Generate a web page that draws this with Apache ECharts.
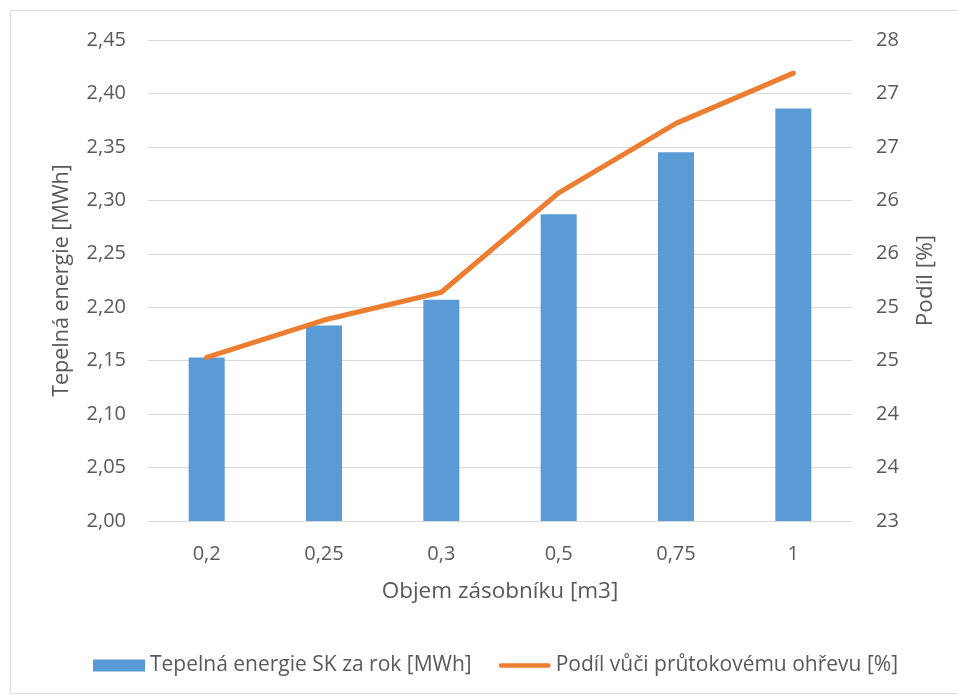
<!DOCTYPE html>
<html>
<head>
<meta charset="utf-8">
<script src="https://cdn.jsdelivr.net/npm/echarts@6/dist/echarts.min.js"></script>
<style>
html,body{margin:0;padding:0;background:#fff;}
#c{width:958px;height:695px;}
</style>
</head>
<body>
<div id="c"></div>
<script>
const categories = ['0,2', '0,25', '0,3', '0,5', '0,75', '1'];
const energyMWh = [2.153, 2.183, 2.207, 2.287, 2.345, 2.386];
const sharePct = [24.53, 24.88, 25.14, 26.07, 26.72, 27.19];
const barName = 'Tepelná energie SK za rok [MWh]';
const lineName = 'Podíl vůči průtokovému ohřevu [%]';
const xAxisName = 'Objem zásobníku [m3]';
const leftAxisName = 'Tepelná energie [MWh]';
const rightAxisName = 'Podíl [%]';

const FONT = 'Open Sans';
const TXT = '#595959';

const chart = echarts.init(document.getElementById('c'), null, {renderer: 'canvas'});
chart.setOption({
  animation: false,
  textStyle: {fontFamily: FONT},
  graphic: [{
    type: 'rect', silent: true, z: -1,
    shape: {x: 10.5, y: 10.5, width: 960, height: 683},
    style: {fill: 'none', stroke: '#d9d9d9', lineWidth: 1}
  }],
  grid: {left: 148, right: 106, top: 40, bottom: 174, containLabel: false},
  legend: {
    left: 88, top: 650,
    itemWidth: 52, itemHeight: 12, itemGap: 27,
    textStyle: {fontFamily: FONT, fontSize: 21, color: TXT},
    data: [
      {name: barName, icon: 'rect'},
      {name: lineName, icon: 'path://M2,0 L54,0 A2.5,2.5 0 0 1 54,5 L2,5 A2.5,2.5 0 0 1 2,0 Z'}
    ]
  },
  xAxis: {
    type: 'category',
    data: categories,
    name: xAxisName,
    nameLocation: 'middle',
    nameGap: 59,
    nameTextStyle: {fontFamily: FONT, fontSize: 22.5, color: TXT},
    axisLine: {lineStyle: {color: '#d9d9d9', width: 1}},
    axisTick: {show: false},
    axisLabel: {fontFamily: FONT, fontSize: 20, color: TXT, margin: 23}
  },
  yAxis: [{
    type: 'value',
    min: 2.0, max: 2.45, interval: 0.05,
    name: leftAxisName,
    nameLocation: 'middle',
    nameGap: 75,
    nameRotate: 90,
    nameTextStyle: {fontFamily: FONT, fontSize: 21.5, color: TXT},
    axisLine: {show: false},
    axisTick: {show: false},
    splitLine: {lineStyle: {color: '#d9d9d9', width: 1}},
    axisLabel: {fontFamily: FONT, fontSize: 20, color: TXT, margin: 22,
      formatter: v => v.toFixed(2).replace('.', ',')}
  }, {
    type: 'value',
    min: 23, max: 27.5, interval: 0.5,
    name: rightAxisName,
    nameLocation: 'middle',
    nameGap: 62,
    nameRotate: 90,
    nameTextStyle: {fontFamily: FONT, fontSize: 22.5, color: TXT},
    axisLine: {show: false},
    axisTick: {show: false},
    splitLine: {show: false},
    axisLabel: {fontFamily: FONT, fontSize: 20, color: TXT, margin: 24,
      formatter: v => String(Math.round(v))}
  }],
  series: [{
    name: barName,
    type: 'bar',
    data: energyMWh,
    barWidth: 36,
    itemStyle: {color: '#5b9bd5'},
    yAxisIndex: 0
  }, {
    name: lineName,
    type: 'line',
    data: sharePct,
    yAxisIndex: 1,
    symbol: 'none',
    lineStyle: {color: '#ed7d31', width: 5, cap: 'round', join: 'round'},
    itemStyle: {color: '#ed7d31'}
  }]
});
</script>
</body>
</html>
